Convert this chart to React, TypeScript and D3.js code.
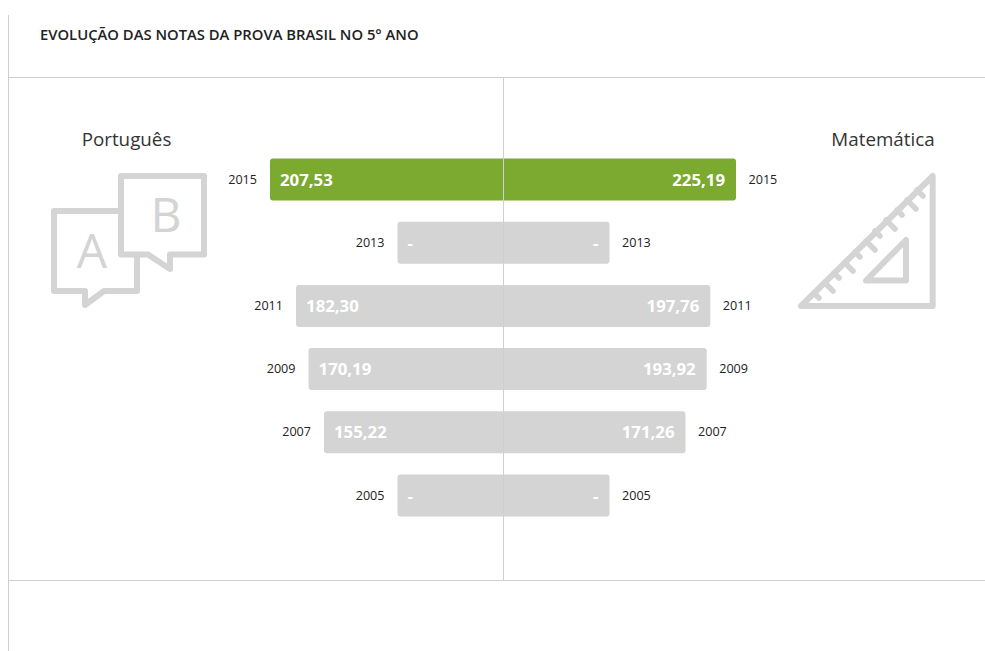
import React from "react";
import * as d3 from "d3";

const years = [2015, 2013, 2011, 2009, 2007, 2005];
const portugues: (number | null)[] = [207.53, null, 182.3, 170.19, 155.22, null];
const matematica: (number | null)[] = [225.19, null, 197.76, 193.92, 171.26, null];
const highlightYear = 2015;
const title = "EVOLUÇÃO DAS NOTAS DA PROVA BRASIL NO 5° ANO";

const FONT = "'Open Sans', sans-serif";
const GREEN = "#7ca92f";
const GREY = "#d4d4d4";
const LINE = "#cfcfcf";
const CX = 503.5;
const MISSING_W = 106;

const leftW = d3.scaleLinear().domain([155.22, 207.53]).range([179.5, 233.5]);
const rightW = d3.scaleLinear().domain([171.26, 225.19]).range([182, 232.5]);
const yPos = d3.scalePoint<number>().domain(years).range([158.5, 474.5]);
const fmt = (v: number | null) => (v === null ? "-" : v.toFixed(2).replace(".", ","));

export default function App() {
  const bw = 42;
  return (
    <svg width={985} height={651} style={{ position: "absolute", left: 0, top: 0, fontFamily: FONT }}>
      <rect width={985} height={651} fill="#fff" />
      <line x1={8.5} x2={8.5} y1={15} y2={651} stroke={LINE} />
      <line x1={9} x2={985} y1={77.5} y2={77.5} stroke={LINE} />
      <line x1={9} x2={985} y1={580.5} y2={580.5} stroke={LINE} />
      <text x={40} y={40} fontSize={14.8} fontWeight={600} fill="#222">{title}</text>
      <text x={126.5} y={146} fontSize={18.8} textAnchor="middle" fill="#333">Português</text>
      <text x={883} y={146} fontSize={18.8} textAnchor="middle" fill="#333">Matemática</text>

      {years.map((yr, i) => {
        const y = yPos(yr) as number;
        const lw = portugues[i] === null ? MISSING_W : leftW(portugues[i] as number);
        const rw = matematica[i] === null ? MISSING_W : rightW(matematica[i] as number);
        const fill = yr === highlightYear ? GREEN : GREY;
        const x0 = CX - lw;
        const x1 = CX + rw;
        return (
          <g key={yr}>
            <rect x={x0} y={y} width={x1 - x0} height={bw} rx={3} fill={fill} />
            <text x={x0 + 10} y={y + 27} fontSize={16.8} fontWeight={700} fill="#fff">{fmt(portugues[i])}</text>
            <text x={x1 - 11} y={y + 27} fontSize={16.8} fontWeight={700} fill="#fff" textAnchor="end">{fmt(matematica[i])}</text>
            <text x={x0 - 13} y={y + 25} fontSize={12.6} fill="#222" textAnchor="end">{yr}</text>
            <text x={x1 + 12.5} y={y + 25} fontSize={12.6} fill="#222">{yr}</text>
          </g>
        );
      })}
      <line x1={CX} x2={CX} y1={78} y2={580} stroke={LINE} />

      {/* Portuguese speech bubbles */}
      <g fill="none" stroke={GREY} strokeWidth={6} strokeLinejoin="round" strokeLinecap="round">
        <path d="M120 211H54V291H85V305L104 291H137V257" />
        <path d="M121 176H204V254.5H170V269L148 254.5H121Z" />
      </g>
      <text x={92} y={268} fontSize={48} textAnchor="middle" fill={GREY}>A</text>
      <text x={166} y={232} fontSize={48} textAnchor="middle" fill={GREY}>B</text>

      {/* Math set square */}
      <g fill="none" stroke={GREY} strokeWidth={6} strokeLinejoin="round" strokeLinecap="round">
        <path d="M932.7 176V306H801Z" />
        <path d="M906 240V280.5H866Z" />
      </g>
      <g fill="none" stroke={GREY} strokeWidth={5.5} strokeLinecap="round">
        <path d="M814 293L819 298M824.5 282.5L833 291M834 273L839 278M844.5 262.5L853 271M855 252L860 257M866 241L875 250M875 231L880 236M886 220L895 229M897 210L902 215M907 200L916 209M917 190L923 196" />
      </g>
    </svg>
  );
}
